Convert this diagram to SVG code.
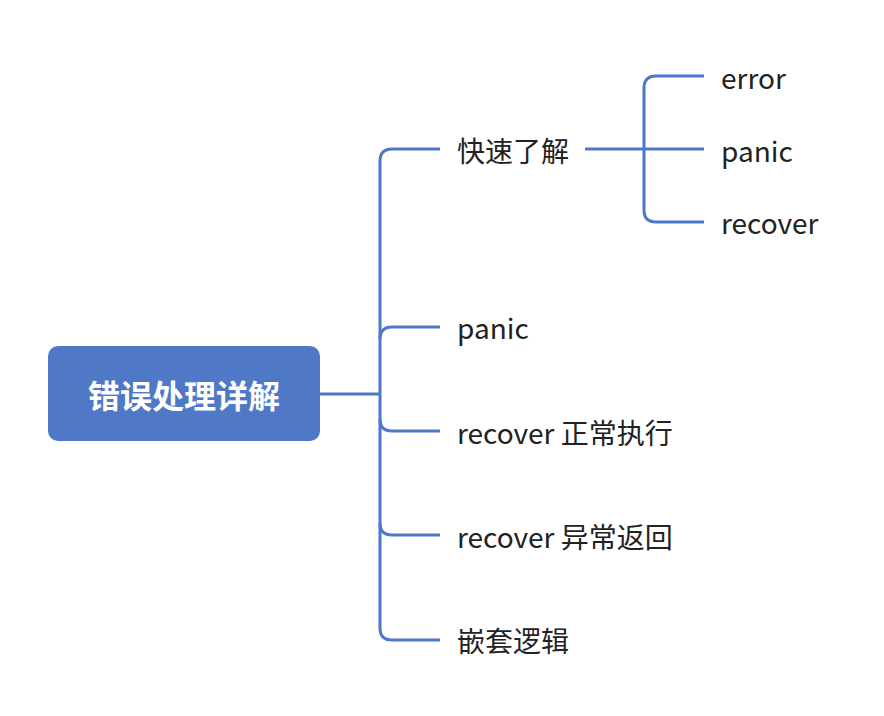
<svg xmlns="http://www.w3.org/2000/svg" width="884" height="716" viewBox="0 0 884 716">
<style>
.ln{fill:none;stroke:#4f78c7;stroke-width:3;stroke-linecap:butt}
.t{font-family:"Noto Sans CJK SC","Noto Sans",sans-serif;font-size:28px;fill:#222222;dominant-baseline:central}
.r{font-family:"Noto Sans CJK SC","Noto Sans",sans-serif;font-size:32px;font-weight:bold;fill:#ffffff;dominant-baseline:central;text-anchor:middle}
</style>
<rect width="884" height="716" fill="#ffffff"/>
<g id="connectors">
<path class="ln" d="M320,394 H380"/>
<path class="ln" d="M440,149 H392 Q380,149 380,161 V628 Q380,640 392,640 H440"/>
<path class="ln" d="M440,327 H392 Q380,327 380,339"/>
<path class="ln" d="M380,419 Q380,431 392,431 H440"/>
<path class="ln" d="M380,523 Q380,535 392,535 H440"/>
<path class="ln" d="M585,149 H704"/>
<path class="ln" d="M704,76 H656 Q644,76 644,88 V210 Q644,222 656,222 H704"/>
</g>
<g id="root">
<rect x="48" y="346" width="272" height="95" rx="10" fill="#4f78c7"/>
<text class="r" x="184" y="394">错误处理详解</text>
</g>
<g id="n1"><text class="t" x="457" y="150">快速了解</text></g>
<g id="n2"><text class="t" x="457" y="327">panic</text></g>
<g id="n3"><text class="t" x="457" y="432">recover 正常执行</text></g>
<g id="n4"><text class="t" x="457" y="536">recover 异常返回</text></g>
<g id="n5"><text class="t" x="457" y="640">嵌套逻辑</text></g>
<g id="n1a"><text class="t" x="721" y="77">error</text></g>
<g id="n1b"><text class="t" x="721" y="150">panic</text></g>
<g id="n1c"><text class="t" x="721" y="222">recover</text></g>
</svg>
